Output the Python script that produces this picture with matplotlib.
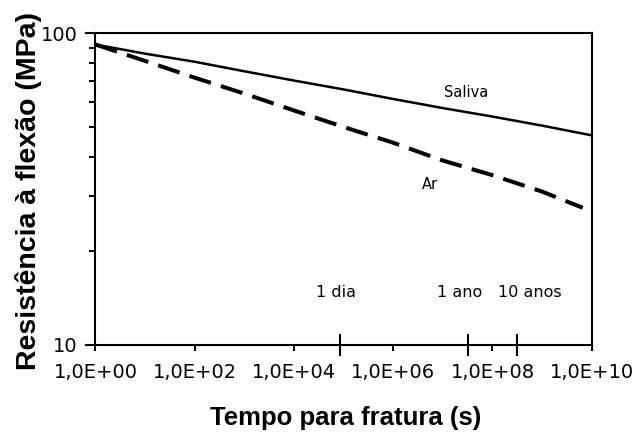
import math

import matplotlib
matplotlib.use("Agg")
import matplotlib.pyplot as plt
from matplotlib.ticker import FixedLocator, FuncFormatter, NullFormatter

# time to fracture (s) and flexural strength (MPa)
saliva_t = [1e0, 1e1, 1e2, 1e3, 1e4, 1e5, 1e6, 1e7, 1e8, 1e9, 1e10]
saliva_mpa = [92, 86, 81, 75.5, 70.5, 66, 61.5, 57.5, 54, 50.5, 47]
ar_t = [1e0, 1e1, 1e2, 1e3, 1e4, 1e5, 1e6, 1e7, 1e8, 1e9, 6.6e9]
ar_mpa = [92, 81.5, 72, 64, 56.5, 50, 44.5, 39, 35, 31, 27.5]

# reference times marked on the x axis
event_t = [86400, 3.156e7, 3.156e8]
event_labels = ["1 dia", "1 ano", "10 anos"]

x_major = [1e0, 1e2, 1e4, 1e6, 1e8, 1e10]
y_major = [10, 100]
y_minor = [20, 30, 40, 50, 60, 70, 80, 90]


def sci_comma(v, pos):
    return f"1,0E+{int(round(math.log10(v))):02d}"


fig = plt.figure(figsize=(6.43, 4.45), dpi=100)
ax = fig.add_axes([0.1485, 0.2258, 0.7717, 0.6994])

ax.plot(saliva_t, saliva_mpa, color="black", lw=1.8, solid_capstyle="butt")
ax.plot(ar_t, ar_mpa, color="black", lw=2.9, dashes=(5.6, 2.6))

ax.set_xscale("log")
ax.set_yscale("log")
ax.set_xlim(1, 1e10)
ax.set_ylim(10, 100)

ax.xaxis.set_major_locator(FixedLocator(x_major))
ax.xaxis.set_major_formatter(FuncFormatter(sci_comma))
ax.xaxis.set_minor_locator(FixedLocator(event_t))
ax.xaxis.set_minor_formatter(NullFormatter())

ax.yaxis.set_major_locator(FixedLocator(y_major))
ax.yaxis.set_major_formatter(FuncFormatter(lambda v, p: f"{int(v)}"))
ax.yaxis.set_minor_locator(FixedLocator(y_minor))
ax.yaxis.set_minor_formatter(NullFormatter())

ax.tick_params(axis="x", which="major", direction="out", length=4.5, width=1.5,
               pad=9, labelsize=14)
ax.tick_params(axis="x", which="minor", direction="inout", length=16, width=1.5)
ax.tick_params(axis="y", which="major", direction="out", length=7, width=1.5,
               pad=6, labelsize=14)
ax.tick_params(axis="y", which="minor", direction="out", length=4.5, width=1.5)

for s in ax.spines.values():
    s.set_linewidth(1.5)

for t, lab, dx in zip(event_t, event_labels, [-3, -6, 9]):
    ax.annotate(lab, (t, 14.7), xytext=(dx, 0), textcoords="offset points",
                ha="center", va="center", fontsize=11.5)

ax.text(2.9e7, 64.7, "Saliva", ha="center", va="center", fontsize=10.5)
ax.text(5.5e6, 32.6, "Ar", ha="center", va="center", fontsize=10.5)

ax.set_xlabel("Tempo para fratura (s)", fontsize=18.5, fontweight="bold",
              family="Liberation Sans", va="center")
ax.xaxis.set_label_coords(0.505, -0.236)
ax.set_ylabel("Resistência à flexão (MPa)", fontsize=20.5, fontweight="bold",
              family="Liberation Sans", va="center")
ax.yaxis.set_label_coords(-0.136, 0.493)

fig.savefig("out.png", dpi=100)
